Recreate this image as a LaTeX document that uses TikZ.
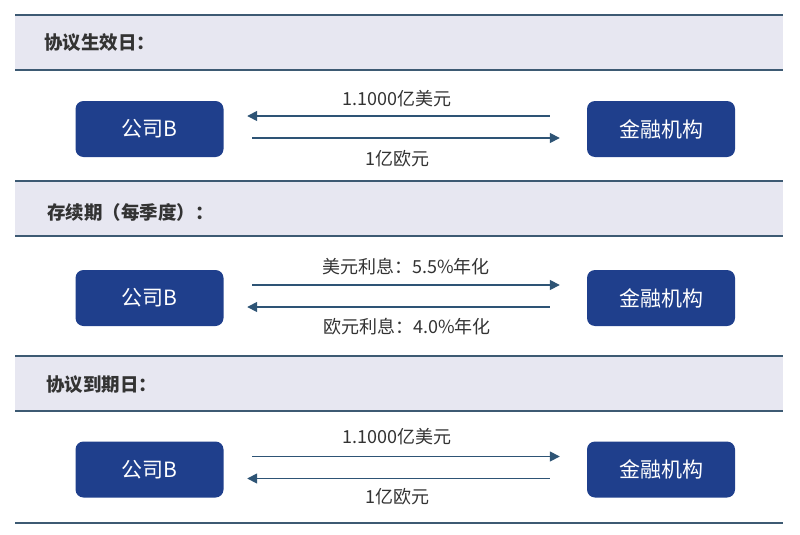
\documentclass[tikz,border=0pt]{standalone}
\usepackage{fontspec}
\setmainfont{Noto Sans CJK SC}
\usetikzlibrary{arrows.meta}
\definecolor{bandfill}{HTML}{E7E7F1}
\definecolor{ruleblue}{HTML}{3D5A73}
\definecolor{boxblue}{HTML}{1F3F8C}
\definecolor{flowblue}{HTML}{2E5475}
\definecolor{labelgray}{HTML}{333333}
\begin{document}
\begin{tikzpicture}[x=1pt,y=-1pt,
    party/.style={fill=boxblue,rounded corners=8pt,minimum width=148pt,minimum height=56pt,
      text=white,font=\fontsize{21}{21}\selectfont},
    flow/.style={flowblue,line width=1.6pt,-{Triangle[length=10pt,width=10pt]}},
    flowr/.style={flow,shorten <=28.5pt,shorten >=27pt},
    flowl/.style={flow,shorten <=37pt,shorten >=23.5pt},
    heading/.style={anchor=west,inner sep=0pt,text=labelgray,font=\bfseries\fontsize{18.5}{18.5}\selectfont},
    amount/.style={text=labelgray,font=\fontsize{18}{18}\selectfont},
    rulebar/.style={ruleblue,line width=1.6pt}]
  \useasboundingbox (0,0) rectangle (800,535);
  % bands
  \fill [bandfill] (15,15) rectangle (783,70);
  \fill [bandfill] (15,181) rectangle (783,236);
  \fill [bandfill] (15,356) rectangle (783,411);
  \foreach \y in {15,70,181,236,356,411,523}
    \draw [rulebar] (15,\y) -- (783,\y);
  \node [heading] (h1) at (44,43) {协议生效日：};
  \node [heading] (h2) at (47,212) {存续期（每季度）：};
  \node [heading] (h3) at (46,385) {协议到期日：};
  % start date
  \node [party] (b1) at (149.5,129) {公司B};
  \node [party] (f1) at (661,129) {金融机构};
  \draw [flowl] ([yshift=13pt]f1.west) -- ([yshift=13pt]b1.east);
  \draw [flowr] ([yshift=-9pt]b1.east) -- ([yshift=-9pt]f1.west);
  \node [amount] (a1) at (397,99) {1.1000亿美元};
  \node [amount] (a2) at (397,159) {1亿欧元};
  % each quarter
  \node [party] (b2) at (149.5,298) {公司B};
  \node [party] (f2) at (661,298) {金融机构};
  \draw [flowr] ([yshift=13pt]b2.east) -- ([yshift=13pt]f2.west);
  \draw [flowl] ([yshift=-9pt]f2.west) -- ([yshift=-9pt]b2.east);
  \node [amount] (a3) at (406,267) {美元利息：5.5\%年化};
  \node [amount] (a4) at (407,327) {欧元利息：4.0\%年化};
  % end date
  \node [party] (b3) at (149.5,469.5) {公司B};
  \node [party] (f3) at (661,469.5) {金融机构};
  \draw [flowr] ([yshift=13pt]b3.east) -- ([yshift=13pt]f3.west);
  \draw [flowl] ([yshift=-9pt]f3.west) -- ([yshift=-9pt]b3.east);
  \node [amount] (a5) at (397,437) {1.1000亿美元};
  \node [amount] (a6) at (397,497) {1亿欧元};
\end{tikzpicture}
\end{document}
